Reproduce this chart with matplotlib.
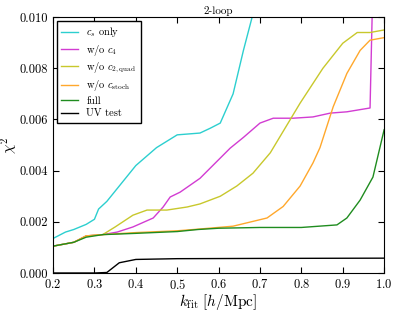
import numpy as np
import matplotlib
matplotlib.use('Agg')
import matplotlib.pyplot as plt

plt.rcParams['font.family'] = 'serif'
plt.rcParams['font.serif'] = ['cmr10', 'DejaVu Serif']
plt.rcParams['mathtext.fontset'] = 'cm'
plt.rcParams['axes.formatter.use_mathtext'] = True

# values
k_cs = [0.2, 0.23, 0.25, 0.28, 0.30, 0.31, 0.33, 0.35, 0.40, 0.45, 0.50, 0.555, 0.58, 0.604, 0.635, 0.66, 0.681, 0.69]
chi_cs = [0.00135, 0.0016, 0.0017, 0.0019, 0.0021, 0.0025, 0.0028, 0.0032, 0.0042, 0.0049, 0.0054, 0.00547, 0.00566, 0.00586, 0.0070, 0.0087, 0.0100, 0.0108]

k_c4 = [0.2, 0.25, 0.28, 0.32, 0.355, 0.393, 0.442, 0.466, 0.483, 0.507, 0.555, 0.628, 0.66, 0.70, 0.732, 0.78, 0.828, 0.87, 0.91, 0.966, 0.971, 0.975]
chi_c4 = [0.00105, 0.0012, 0.00145, 0.0015, 0.0016, 0.0018, 0.00215, 0.00258, 0.00297, 0.00316, 0.0037, 0.00488, 0.0053, 0.00586, 0.00605, 0.00605, 0.0061, 0.00625, 0.0063, 0.00645, 0.0100, 0.0110]

k_c2 = [0.2, 0.25, 0.28, 0.32, 0.35, 0.393, 0.427, 0.475, 0.524, 0.555, 0.604, 0.644, 0.683, 0.725, 0.797, 0.852, 0.90, 0.935, 0.966, 1.0]
chi_c2 = [0.00105, 0.0012, 0.00145, 0.0015, 0.0018, 0.00226, 0.00246, 0.00246, 0.00258, 0.0027, 0.0030, 0.0034, 0.0039, 0.0047, 0.00664, 0.0080, 0.00898, 0.0094, 0.0094, 0.0095]

k_st = [0.2, 0.25, 0.28, 0.32, 0.40, 0.50, 0.555, 0.635, 0.717, 0.756, 0.797, 0.828, 0.845, 0.877, 0.91, 0.942, 0.966, 1.0]
chi_st = [0.00105, 0.0012, 0.00145, 0.0015, 0.00158, 0.00165, 0.00172, 0.00183, 0.00215, 0.0026, 0.0034, 0.0043, 0.0049, 0.0065, 0.0078, 0.0087, 0.0091, 0.0092]

k_full = [0.2, 0.25, 0.28, 0.32, 0.40, 0.50, 0.55, 0.60, 0.70, 0.80, 0.886, 0.91, 0.942, 0.973, 1.0]
chi_full = [0.00105, 0.0012, 0.0014, 0.0015, 0.00155, 0.00162, 0.0017, 0.00175, 0.00178, 0.00178, 0.00188, 0.00215, 0.00285, 0.00375, 0.0056]

k_uv = [0.2, 0.30, 0.33, 0.36, 0.40, 0.50, 0.70, 1.0]
chi_uv = [0.0, 0.0, 0.00002, 0.0004, 0.00053, 0.00056, 0.00057, 0.00058]

fig = plt.figure(figsize=(3.96, 3.12), dpi=100)
ax = fig.add_axes([0.134, 0.125, 0.836, 0.820])

ax.plot(k_cs, chi_cs, color='#2ccfcf', lw=1, label=r'$c_s$ only')
ax.plot(k_c4, chi_c4, color='#d23cd2', lw=1, label=r'w/o $c_4$')
ax.plot(k_c2, chi_c2, color='#c8c82c', lw=1, label=r'w/o $c_{2,{\rm quad}}$')
ax.plot(k_st, chi_st, color='#ffa82c', lw=1, label=r'w/o $c_{\rm stoch}$')
ax.plot(k_full, chi_full, color='#1f8c1f', lw=1, label='full')
ax.plot(k_uv, chi_uv, color='black', lw=1, label='UV test')

ax.set_xlim(0.2, 1.0)
ax.set_ylim(0.0, 0.010)
ax.set_xticks(np.arange(0.2, 1.01, 0.1))
ax.set_yticks(np.arange(0.0, 0.0101, 0.002))
ax.set_yticklabels(['0.000', '0.002', '0.004', '0.006', '0.008', '0.010'])
ax.tick_params(direction='in', top=True, right=True, labelsize=9, length=4)
ax.set_xlabel(r'$k_{\rm fit}\ [h/{\rm Mpc}]$', fontsize=11, labelpad=0)
ax.set_ylabel(r'$\chi^2$', fontsize=11, labelpad=0)
ax.set_title('2-loop', fontsize=8, pad=2)
ax.legend(loc='upper left', fontsize=7.5, handlelength=1.6, fancybox=False,
          edgecolor='black', framealpha=1, borderaxespad=0.4, labelspacing=0.3)

fig.savefig('out.png', dpi=100)
